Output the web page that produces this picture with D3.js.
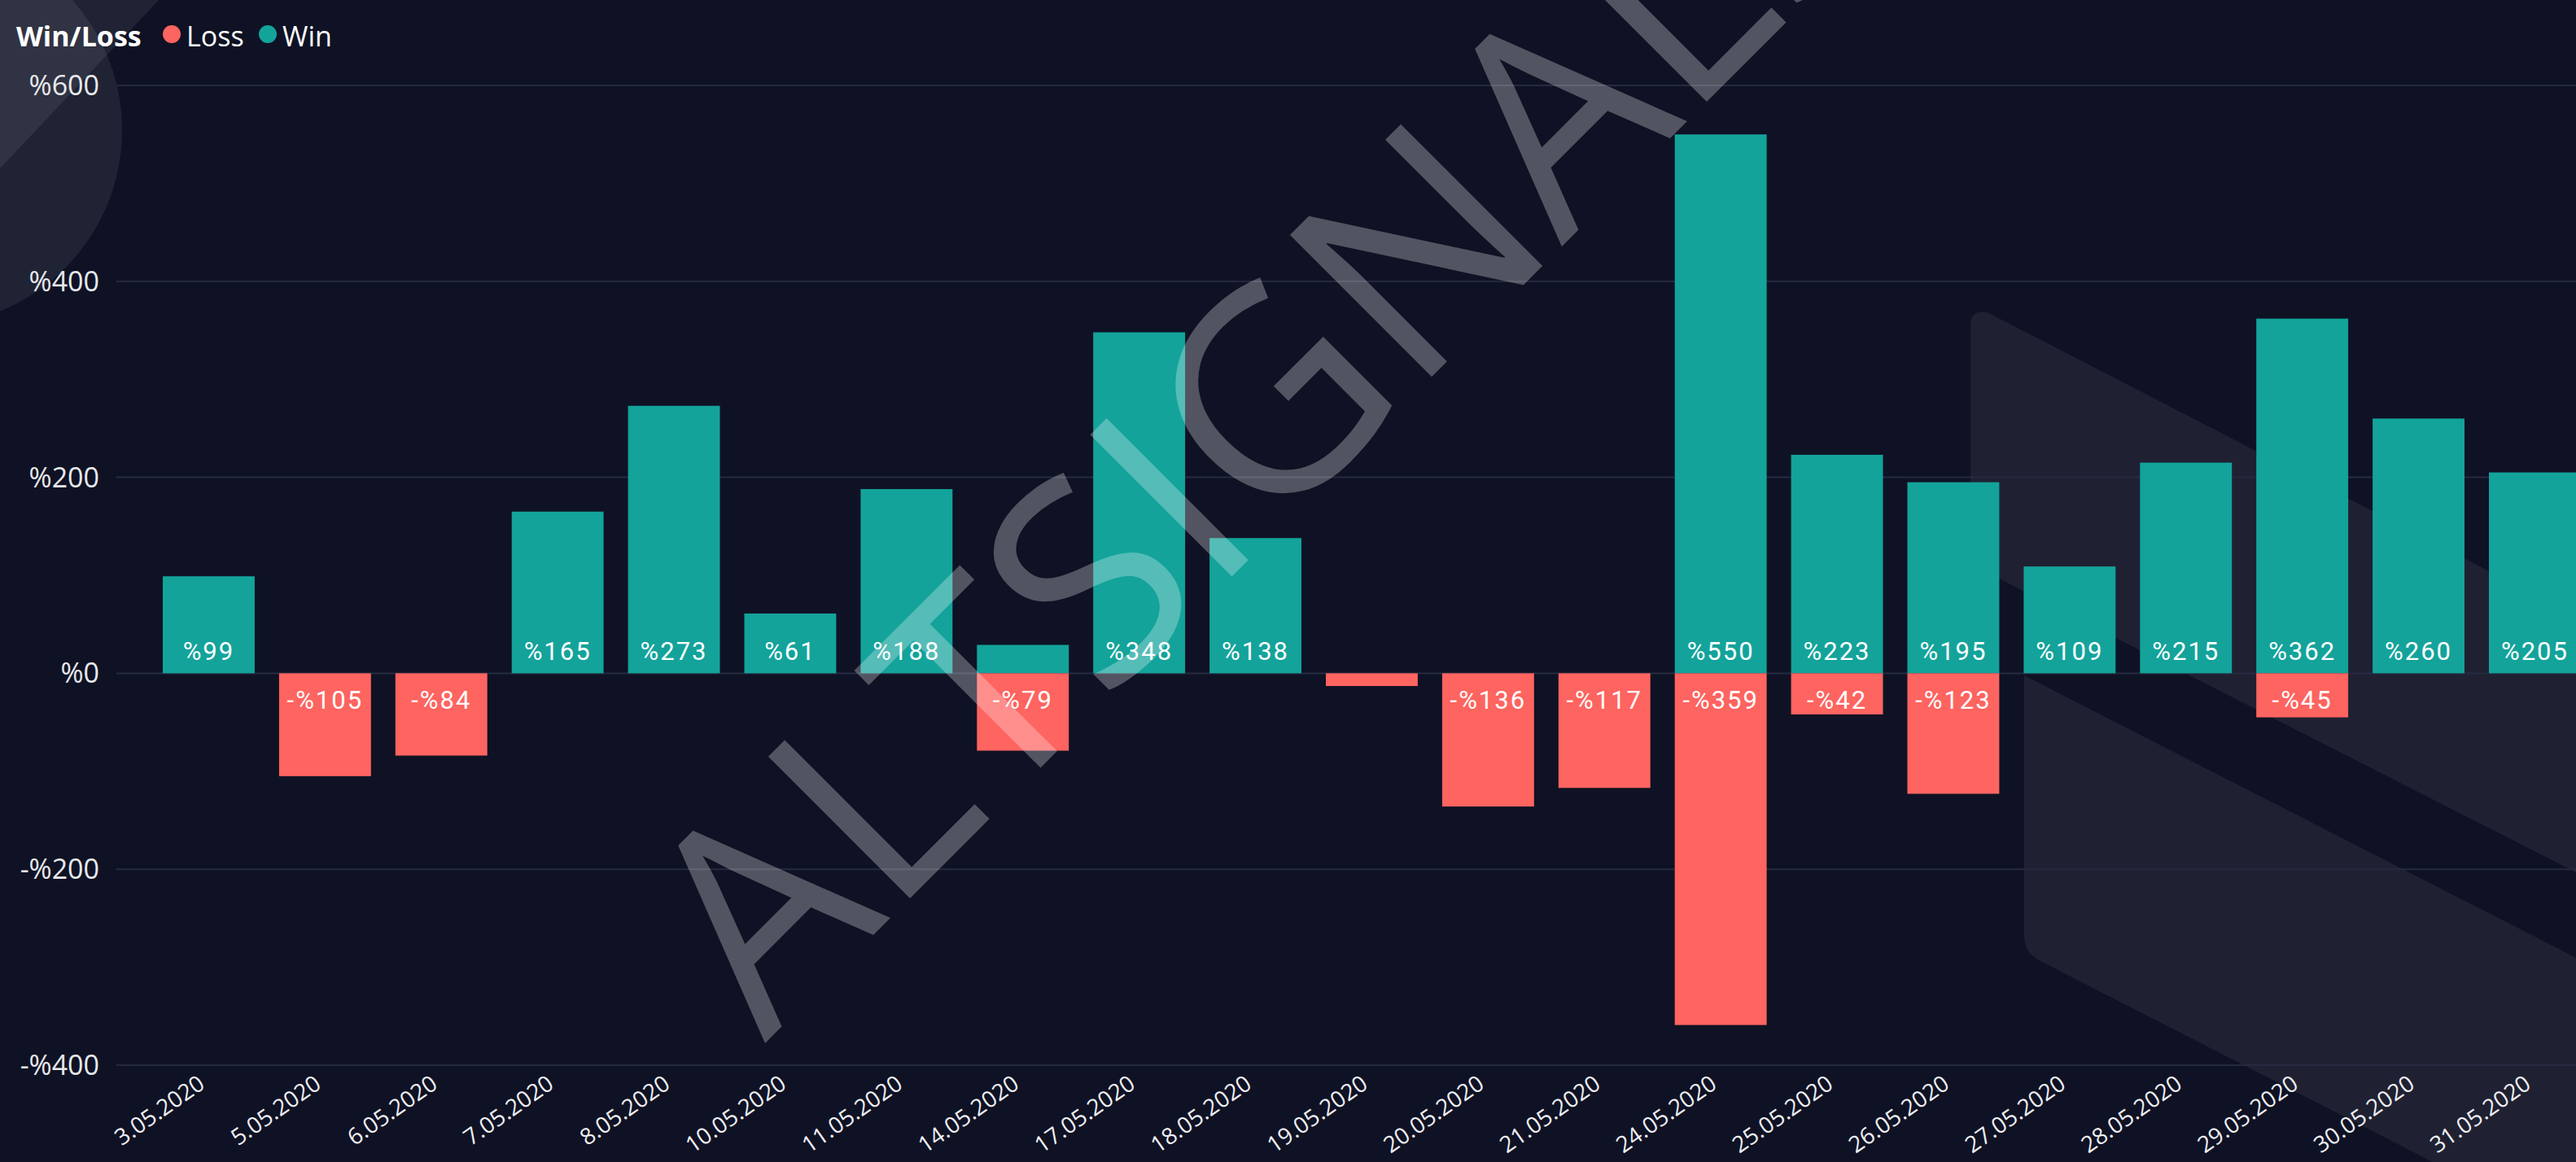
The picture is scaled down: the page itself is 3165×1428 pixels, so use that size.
<!DOCTYPE html>
<html lang="en">
<head>
  <meta charset="UTF-8" />
  <title>Win/Loss</title>
  <script src="https://d3js.org/d3.v7.min.js"></script>
  <style>
    body {
      margin: 0;
      padding: 0;
      background-color: #0f1224;
      overflow: hidden;
    }
    svg {
      display: block;
    }
  </style>
</head>
<body>
  <svg id="chart" width="3165" height="1428"></svg>

  <script>
    const dates = [
      "3.05.2020", "5.05.2020", "6.05.2020", "7.05.2020", "8.05.2020",
      "10.05.2020", "11.05.2020", "14.05.2020", "17.05.2020", "18.05.2020",
      "19.05.2020", "20.05.2020", "21.05.2020", "24.05.2020", "25.05.2020",
      "26.05.2020", "27.05.2020", "28.05.2020", "29.05.2020", "30.05.2020",
      "31.05.2020"
    ];
    const winValues = [99, null, null, 165, 273, 61, 188, 29, 348, 138, null, null, null, 550, 223, 195, 109, 215, 362, 260, 205];
    const lossValues = [null, -105, -84, null, null, null, null, -79, null, null, -13, -136, -117, -359, -42, -123, null, null, -45, null, null];
    const yTicks = [-400, -200, 0, 200, 400, 600];
    const seriesNames = ["Loss", "Win"];

    const width = 3165;
    const height = 1428;
    const colors = { Win: "#13a39b", Loss: "#fe6460" };

    const svg = d3.select("#chart");

    // background decorations (logo shapes)
    const deco = svg.append("g");
    deco.append("circle")
      .attr("cx", -90).attr("cy", 160).attr("r", 240)
      .attr("fill", "#fff").attr("opacity", 0.075);
    deco.append("path")
      .attr("d", "M0,0 L195,0 L0,207 Z")
      .attr("fill", "#fff").attr("opacity", 0.075);
    deco.append("path")
      .attr("d", "M2421,400 Q2421,380 2442,384 L3165,757 L3165,1072 L2421,693 Z")
      .attr("fill", "#fff").attr("opacity", 0.065);
    deco.append("path")
      .attr("d", "M2487,830 L3165,1177 L3165,1428 L2989,1428 L2505,1180 Q2487,1170 2487,1150 Z")
      .attr("fill", "#fff").attr("opacity", 0.065);

    const x = d3.scaleBand()
      .domain(dates)
      .range([185, 185 + 21 * 142.9])
      .paddingInner(0.21)
      .paddingOuter(0.105);

    const y = d3.scaleLinear()
      .domain([-400, 600])
      .range([1309, 105]);

    const fmt = v => (v < 0 ? "-%" : "%") + Math.abs(v);

    // gridlines
    svg.append("g")
      .selectAll("line")
      .data(yTicks)
      .join("line")
      .attr("x1", 143)
      .attr("x2", width)
      .attr("y1", d => y(d))
      .attr("y2", d => y(d))
      .attr("stroke", "#262a40")
      .attr("stroke-width", 2);

    // y labels
    svg.append("g")
      .selectAll("text")
      .data(yTicks)
      .join("text")
      .attr("x", 122)
      .attr("y", d => y(d))
      .attr("dy", "0.35em")
      .attr("text-anchor", "end")
      .attr("font-family", "'Open Sans', sans-serif")
      .attr("font-size", 34)
      .attr("fill", "#e8e8ec")
      .text(d => fmt(d));

    // bars
    const rows = [];
    dates.forEach((d, i) => {
      if (winValues[i] != null) rows.push({ date: d, series: "Win", value: winValues[i] });
      if (lossValues[i] != null) rows.push({ date: d, series: "Loss", value: lossValues[i] });
    });

    svg.append("g")
      .selectAll("rect")
      .data(rows)
      .join("rect")
      .attr("x", d => x(d.date))
      .attr("width", x.bandwidth())
      .attr("y", d => Math.min(y(0), y(d.value)))
      .attr("height", d => Math.abs(y(d.value) - y(0)))
      .attr("fill", d => colors[d.series]);

    // data labels (only where the bar is tall enough)
    svg.append("g")
      .selectAll("text")
      .data(rows.filter(d => Math.abs(d.value) >= 40))
      .join("text")
      .attr("x", d => x(d.date) + x.bandwidth() / 2)
      .attr("y", d => d.value > 0 ? y(0) - 16 : y(0) + 44)
      .attr("text-anchor", "middle")
      .attr("font-family", "Roboto, sans-serif")
      .attr("font-size", 31)
      .attr("letter-spacing", 2)
      .attr("fill", "#ffffff")
      .text(d => fmt(d.value));

    // x labels
    svg.append("g")
      .selectAll("text")
      .data(dates)
      .join("text")
      .attr("transform", d => `translate(${x(d) + x.bandwidth() / 2 - 3},${y(-400) + 27}) rotate(-35)`)
      .attr("text-anchor", "end")
      .attr("font-family", "'Open Sans', sans-serif")
      .attr("font-size", 28)
      .attr("fill", "#f0f0f4")
      .text(d => d);

    // legend
    const legend = svg.append("g");
    legend.append("text")
      .attr("x", 20).attr("y", 57)
      .attr("font-family", "'Open Sans', sans-serif")
      .attr("font-weight", "bold")
      .attr("font-size", 34)
      .attr("fill", "#ffffff")
      .text("Win/Loss");
    const legendX = { Loss: 211, Win: 329 };
    seriesNames.forEach(s => {
      legend.append("circle")
        .attr("cx", legendX[s]).attr("cy", 42).attr("r", 11)
        .attr("fill", colors[s]);
      legend.append("text")
        .attr("x", legendX[s] + 18).attr("y", 57)
        .attr("font-family", "'Open Sans', sans-serif")
        .attr("font-size", 34)
        .attr("fill", "#ffffff")
        .text(s);
    });

    // watermark
    svg.append("text")
      .attr("transform", "translate(940,1282) rotate(-45)")
      .attr("font-family", "'Open Sans', sans-serif")
      .attr("font-size", 345)
      .attr("fill", "#ffffff")
      .attr("opacity", 0.28)
      .text("ALTSIGNALS");
  </script>
</body>
</html>
